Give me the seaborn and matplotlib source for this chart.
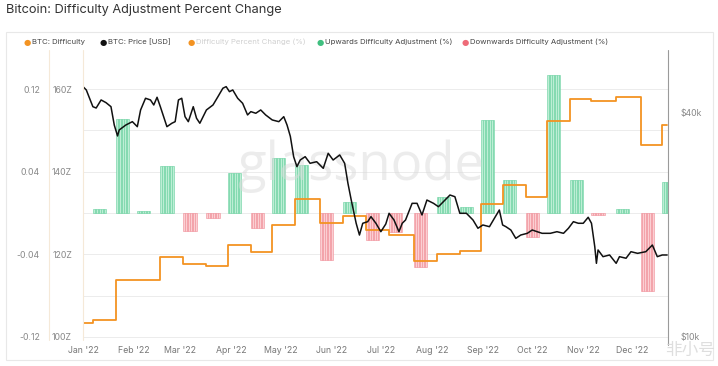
import numpy as np
import pandas as pd
import matplotlib.pyplot as plt
import matplotlib.dates as mdates
from matplotlib.lines import Line2D
from matplotlib.patches import Rectangle
import seaborn as sns

start = pd.Timestamp('2022-01-01')

# Difficulty adjustments (day offset from Jan 1 2022), new difficulty [Z] and change (fraction)
adj_day = [6, 20, 33, 47, 61, 75, 88, 102, 115, 129, 144, 158, 172,
           186, 201, 215, 229, 242, 255, 269, 282, 296, 309, 324, 339, 352]
adj_difficulty = [104.1, 113.7, 113.9, 119.3, 117.6, 117.1, 122.2, 120.5, 127.2,
                  133.5, 127.7, 129.2, 125.9, 124.6, 118.3, 120.0, 120.7, 132.3,
                  136.9, 134.0, 152.3, 157.6, 157.1, 158.1, 146.5, 151.3]
adj_change = [0.004, 0.091, 0.002, 0.0455, -0.0174, -0.005, 0.039, -0.0145, 0.053,
              0.0465, -0.0455, 0.0106, -0.026, -0.018, -0.052, 0.0155, 0.006, 0.090,
              0.032, -0.023, 0.1336, 0.032, -0.002, 0.004, -0.0755, 0.030]
difficulty_start = 103.4
last_day = 355

# BTC price [USD], day offset from Jan 1 2022
price_day = [0, 2, 6, 8, 11, 14, 17, 19, 21, 22, 26, 30, 33, 35, 38, 41, 43, 45, 47, 49,
             51, 54, 56, 58, 60, 62, 64, 67, 69, 71, 75, 79, 82, 85, 87, 89, 91, 94, 97,
             100, 102, 105, 108, 111, 115, 119, 122, 124, 126, 128, 130, 132, 135, 138,
             142, 146, 149, 152, 156, 159, 161, 163, 166, 168, 170, 173, 175, 178, 181,
             184, 186, 189, 192, 194, 196, 200, 203, 206, 209, 213, 216, 219, 223, 226,
             229, 233, 237, 240, 243, 247, 250, 253, 255, 257, 260, 263, 266, 270, 273,
             276, 279, 284, 288, 292, 295, 298, 301, 304, 307, 309, 311, 312, 313, 316,
             320, 324, 326, 330, 333, 337, 342, 346, 349, 352, 355]
price_usd = [46800, 45850, 41340, 41000, 43100, 42380, 41340, 36900, 34490, 35790,
             36900, 37680, 36530, 40510, 43550, 43100, 41780, 43820, 41340, 38860,
             36530, 37310, 37680, 43100, 43550, 38860, 37680, 41340, 38480, 37310,
             40510, 41780, 43980, 46340, 46800, 45370, 45850, 43550, 42220, 39280,
             40090, 39690, 40510, 39280, 38080, 37680, 38860, 36900, 34400, 30340,
             28520, 29720, 30340, 29120, 29410, 28230, 30980, 29720, 30660, 29120,
             25730, 23200, 20090, 18680, 20090, 20290, 20930, 20090, 19070, 20000,
             21370, 20500, 19070, 20090, 20500, 22730, 22730, 21150, 23200, 22730,
             22260, 22960, 23930, 23680, 21370, 21370, 20500, 19480, 19880, 19670,
             20720, 21810, 19880, 19670, 19270, 18300, 18680, 18880, 19270, 19070,
             18880, 18880, 19070, 18880, 19480, 20290, 20090, 20090, 20850, 20090,
             17380, 15680, 17030, 16340, 16510, 15680, 16340, 16180, 16850, 16680,
             16850, 17560, 16340, 16510, 16510]

month_labels = ["Jan '22", "Feb '22", "Mar '22", "Apr '22", "May '22", "Jun '22",
                "Jul '22", "Aug '22", "Sep '22", "Oct '22", "Nov '22", "Dec '22"]

# build tables
price = pd.DataFrame({'date': start + pd.to_timedelta(price_day, unit='D'), 'price': price_usd})
diff = pd.DataFrame({'date': start + pd.to_timedelta([0] + adj_day + [last_day], unit='D'),
                     'difficulty': [difficulty_start] + adj_difficulty + [adj_difficulty[-1]]})
bars = pd.DataFrame({'day': adj_day, 'change': adj_change})
bars = bars.loc[bars.index.repeat(8)].reset_index(drop=True)
bars['day'] = bars['day'] + bars.groupby('day').cumcount()
bars['date'] = start + pd.to_timedelta(bars['day'], unit='D')

sns.set_theme(style='white')
plt.rcParams['font.family'] = ['Inter', 'DejaVu Sans']

W, H = 718, 366
fig = plt.figure(figsize=(W / 100, H / 100), dpi=100)
ax = fig.add_axes([83 / W, 1 - 338 / H, 585 / W, 286 / H])

up = bars[bars['change'] >= 0]
down = bars[bars['change'] < 0]
ax.bar(up['date'], up['change'], width=1.0, align='edge', color='#bdeed5',
       edgecolor='#67d09e', linewidth=0.4, zorder=2)
ax.bar(down['date'], down['change'], width=1.0, align='edge', color='#fbcfd3',
       edgecolor='#f08d97', linewidth=0.4, zorder=2)

ax.set_xlim(start, start + pd.Timedelta(days=last_day + 0.5))
ax.set_ylim(-0.121, 0.156)
ax.set_yticks([-0.12, -0.04, 0.04, 0.12])
ax.set_yticklabels(['-0.12', '-0.04', '0.04', '0.12'])
ax.set_yticks([-0.08, 0.0, 0.08], minor=True)
ax.grid(True, which='both', axis='y', color='#ececec', linewidth=0.7)
ax.grid(False, axis='x')
month_ticks = pd.date_range(start, periods=12, freq='MS')
ax.set_xticks(month_ticks)
ax.set_xticklabels(month_labels)
ax.tick_params(axis='x', length=0, pad=6, labelsize=6.3, labelcolor='#777777')
ax.tick_params(axis='y', which='both', length=0, pad=31, labelsize=6.3, labelcolor='#888888')
ax.set_xlabel('')
ax.set_ylabel('')

ax.text(0.475, 0.6, 'glassnode', transform=ax.transAxes, ha='center', va='center',
        fontsize=38, color='#dadada', alpha=0.5, zorder=3, fontfamily='Open Sans')

# difficulty (left inner axis)
ax2 = ax.twinx()
sns.lineplot(data=diff, x='date', y='difficulty', drawstyle='steps-post',
             color='#f39322', linewidth=1.3, ax=ax2)
ax2.set_ylim(130 - 0.121 * 250, 130 + 0.156 * 250)
ax2.yaxis.tick_left()
ax2.set_yticks([100, 120, 140, 160])
ax2.set_yticklabels(['100Z', '120Z', '140Z', '160Z'])
ax2.tick_params(axis='y', length=0, pad=8, labelsize=6.3, labelcolor='#888888')
ax2.set_ylabel('')
ax2.set_xlabel('')

# price (right axis, log)
ax3 = ax.twinx()
sns.lineplot(data=price, x='date', y='price', color='#111111', linewidth=1.1, ax=ax3)
ax3.set_yscale('log')
ax3.set_ylim(9877, 57990)
ax3.set_yticks([10000, 40000])
ax3.set_yticklabels(['$10k', '$40k'])
ax3.yaxis.set_minor_locator(plt.NullLocator())
ax3.tick_params(axis='y', which='both', length=0, pad=9, labelsize=6.3, labelcolor='#888888')
ax3.set_ylabel('')
ax3.set_xlabel('')

for a in (ax, ax2, ax3):
    for s in a.spines.values():
        s.set_visible(False)

# frame and separators
fig.add_artist(Rectangle((6 / W, 1 - 360 / H), 707 / W, 328 / H, transform=fig.transFigure,
                         fill=False, edgecolor='#e8e8e8', linewidth=0.8))
for xp in (49, 83):
    fig.add_artist(Line2D([xp / W, xp / W], [1 - 340 / H, 1 - 50 / H],
                          color='#f5e9d8', linewidth=0.8))
fig.add_artist(Line2D([668 / W, 668 / W], [1 - 345 / H, 1 - 50 / H],
                      color='#9a9a9a', linewidth=0.8))

fig.text(6 / W, 1 - 10 / H, 'Bitcoin: Difficulty Adjustment Percent Change',
         fontsize=9.2, color='#333333', va='center', ha='left')

# legend row
legend_items = [('BTC: Difficulty', '#f39322', '#444444', 27),
                ('BTC: Price [USD]', '#111111', '#444444', 103),
                ('Difficulty Percent Change (%)', '#f39322', '#d0d0d0', 191),
                ('Upwards Difficulty Adjustment (%)', '#3fbf7f', '#444444', 320),
                ('Downwards Difficulty Adjustment (%)', '#ee6b78', '#444444', 465)]
for label, dot, tc, xp in legend_items:
    fig.text(xp / W, 1 - 42 / H, '●', color=dot, fontsize=6, va='center', ha='center',
             fontfamily='DejaVu Sans')
    fig.text((xp + 5) / W, 1 - 42 / H, label, color=tc, fontsize=5.6, va='center', ha='left')

fig.text(690 / W, 1 - 350 / H, '非小号', color='#d6d6d6', fontsize=12, va='center',
         ha='center', fontfamily='Noto Sans CJK SC', alpha=0.8)

fig.savefig('out.png', dpi=100)
